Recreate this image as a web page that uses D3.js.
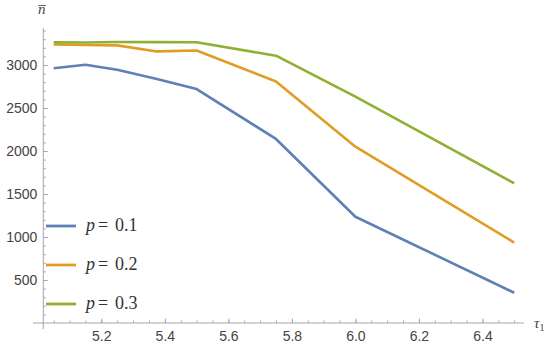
<!DOCTYPE html>
<html>
<head>
<meta charset="utf-8">
<script src="https://cdn.jsdelivr.net/npm/d3@7"></script>
<style>
  body { margin: 0; background: #fff; }
</style>
</head>
<body>
<div id="canvas"></div>
<script>
"use strict"

/* data */
let tau = [5.05, 5.15, 5.25, 5.375, 5.5, 5.75, 6.0, 6.5];
let nP1 = [2962, 3002, 2945, 2838, 2720, 2140, 1235, 352];
let nP2 = [3240, 3232, 3228, 3158, 3168, 2808, 2050, 935];
let nP3 = [3264, 3262, 3268, 3266, 3264, 3108, 2632, 1625];
let seriesNames = ["0.1", "0.2", "0.3"];
let xTicks = [5.2, 5.4, 5.6, 5.8, 6.0, 6.2, 6.4];
let yTicks = [500, 1000, 1500, 2000, 2500, 3000];

/* drawing config */
let svgWidth = 550;
let svgHeight = 347;
let colors = ["#5e81b5", "#e19c24", "#8fb032"];
let axisColor = "#a6a6a6";
let sansFont = "'Liberation Sans'";
let serifFont = "'Liberation Serif'";

let svg = d3.select("#canvas")
    .append("svg")
    .attr("width", svgWidth)
    .attr("height", svgHeight);

let xScale = d3.scaleLinear()
    .domain([5, 6.5])
    .range([37.8, 514.2]);

let yScale = d3.scaleLinear()
    .domain([0, 3000])
    .range([323, 65]);

let x0 = 43.3; // where the y axis sits
let y0 = yScale(0);

/* minor ticks */
let xMinor = d3.range(5.0, 6.501, 0.05).filter(v => xScale(v) > x0 + 1);
let yMinor = d3.range(100, 3401, 100);

svg.append("g")
    .attr("transform", "translate(0," + y0 + ")")
    .call(d3.axisBottom(xScale).tickValues(xMinor).tickSizeInner(-2.5).tickSizeOuter(0).tickFormat(""))
    .call(g => g.select(".domain").remove());

svg.append("g")
    .attr("transform", "translate(" + x0 + ",0)")
    .call(d3.axisLeft(yScale).tickValues(yMinor).tickSizeInner(-2.5).tickSizeOuter(0).tickFormat(""))
    .call(g => g.select(".domain").remove());

/* major ticks with labels */
svg.append("g")
    .attr("transform", "translate(0," + y0 + ")")
    .call(d3.axisBottom(xScale).tickValues(xTicks).tickSizeInner(-4.5).tickSizeOuter(0)
        .tickPadding(8).tickFormat(d3.format(".1f")))
    .call(g => g.select(".domain").remove());

svg.append("g")
    .attr("transform", "translate(" + x0 + ",0)")
    .call(d3.axisLeft(yScale).tickValues(yTicks).tickSizeInner(-4.5).tickSizeOuter(0)
        .tickPadding(6).tickFormat(d3.format("d")))
    .call(g => g.select(".domain").remove());

svg.selectAll(".tick line").attr("stroke", axisColor);
svg.selectAll(".tick text")
    .style("font-family", sansFont)
    .style("font-size", "14px")
    .attr("fill", "#444");

/* axis lines */
svg.append("line")
    .attr("x1", 33).attr("x2", 524)
    .attr("y1", y0).attr("y2", y0)
    .attr("stroke", axisColor);

svg.append("line")
    .attr("x1", x0).attr("x2", x0)
    .attr("y1", 28).attr("y2", 329)
    .attr("stroke", axisColor);

/* series */
let series = [nP1, nP2, nP3];
let line = d3.line()
    .x((d, i) => xScale(tau[i]))
    .y(d => yScale(d));

svg.selectAll("path.series")
    .data(series)
    .join("path")
    .attr("class", "series")
    .attr("d", line)
    .attr("fill", "none")
    .attr("stroke", (d, i) => colors[i])
    .attr("stroke-width", 2.6)
    .attr("stroke-linejoin", "round");

/* axis labels */
svg.append("text")
    .attr("x", 38)
    .attr("y", 14)
    .style("font-family", serifFont)
    .style("font-style", "italic")
    .style("font-size", "15px")
    .attr("fill", "#444")
    .text("n");
svg.append("line")
    .attr("x1", 38).attr("x2", 46)
    .attr("y1", 5.5).attr("y2", 5.5)
    .attr("stroke", "#444")
    .attr("stroke-width", 0.8);

let tauLabel = svg.append("text")
    .attr("x", 534)
    .attr("y", 328)
    .style("font-family", serifFont)
    .style("font-size", "15px")
    .attr("fill", "#444");
tauLabel.append("tspan").style("font-style", "italic").text("τ");
tauLabel.append("tspan").style("font-size", "10px").attr("dy", 3).text("1");

/* legend */
let legendY = [226, 265, 304];
svg.selectAll("line.key")
    .data(seriesNames)
    .join("line")
    .attr("class", "key")
    .attr("x1", 46).attr("x2", 76)
    .attr("y1", (d, i) => legendY[i])
    .attr("y2", (d, i) => legendY[i])
    .attr("stroke", (d, i) => colors[i])
    .attr("stroke-width", 2.8);

let keyText = svg.selectAll("text.key")
    .data(seriesNames)
    .join("text")
    .attr("class", "key")
    .attr("y", (d, i) => legendY[i] + 5)
    .style("font-family", serifFont)
    .style("font-size", "18px")
    .attr("fill", "#333");

keyText.append("tspan").attr("x", 86).style("font-style", "italic").text("p");
keyText.append("tspan").attr("x", 98).text("=");
keyText.append("tspan").attr("x", 115).text(d => d);
</script>
</body>
</html>
